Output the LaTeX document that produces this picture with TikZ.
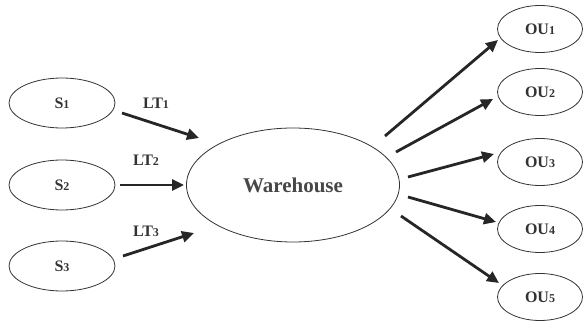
\documentclass[tikz,border=0pt]{standalone}
\usepackage{fontspec}
\setmainfont{Liberation Serif}
\usetikzlibrary{arrows.meta,shapes.geometric}
\newcommand{\dg}[1]{{\fontsize{12}{12}\selectfont #1}}
\begin{document}
\begin{tikzpicture}[x=1pt,y=-1pt,
  ell/.style={draw=black!80,line width=0.8pt,ellipse,inner sep=0pt},
  sbox/.style={ell,minimum width=106pt,minimum height=50pt},
  obox/.style={ell,minimum width=85pt,minimum height=47pt},
  lbl/.style={font=\fontsize{16}{16}\selectfont\bfseries,text=black!80},
  arr/.style={line width=2.8pt,draw=black!85,-{Triangle[length=12pt,width=11pt]}}]
\useasboundingbox (0,0) rectangle (584,326);
\node[sbox,lbl] (s1) at (62,103) {S\dg{1}};
\node[sbox,lbl] (s2) at (62,185) {S\dg{2}};
\node[sbox,lbl] (s3) at (62,266) {S\dg{3}};
\node[ell,minimum width=213pt,minimum height=114pt,font=\fontsize{21}{21}\selectfont\bfseries,text=black!72] (w) at (293,185) {Warehouse};
\node[obox,lbl] (o1) at (540,29) {OU\dg{1}};
\node[obox,lbl] (o2) at (540,92) {OU\dg{2}};
\node[obox,lbl] (o3) at (540,162) {OU\dg{3}};
\node[obox,lbl] (o4) at (540,229) {OU\dg{4}};
\node[obox,lbl] (o5) at (540,297) {OU\dg{5}};
\coordinate (a1s) at (122,113); \coordinate (a1e) at (199,138);
\coordinate (a2s) at (120,185); \coordinate (a2e) at (184,185);
\coordinate (a3s) at (123,256); \coordinate (a3e) at (194,233);
\draw[arr] (a1s) -- (a1e);
\draw[arr] (a2s) -- (a2e);
\draw[arr] (a3s) -- (a3e);
\node[lbl] (l1) at (156,103) {LT\dg{1}};
\node[lbl] (l2) at (146,160) {LT\dg{2}};
\node[lbl] (l3) at (146,231) {LT\dg{3}};
\coordinate (b1s) at (385,136); \coordinate (b1e) at (498,40);
\coordinate (b2s) at (396,152); \coordinate (b2e) at (493,99);
\coordinate (b3s) at (408,177); \coordinate (b3e) at (494,154);
\coordinate (b4s) at (408,197); \coordinate (b4e) at (496,222);
\coordinate (b5s) at (401,216); \coordinate (b5e) at (499,283);
\draw[arr] (b1s) -- (b1e);
\draw[arr] (b2s) -- (b2e);
\draw[arr] (b3s) -- (b3e);
\draw[arr] (b4s) -- (b4e);
\draw[arr] (b5s) -- (b5e);
\end{tikzpicture}
\end{document}
